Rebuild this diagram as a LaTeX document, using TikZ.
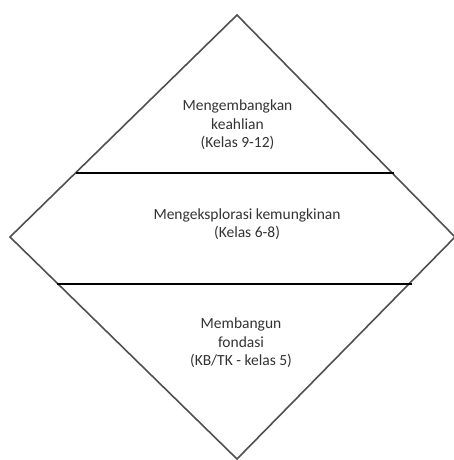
\documentclass[tikz,border=0pt]{standalone}
\usepackage{fontspec}
\setmainfont{Carlito}
\definecolor{edgegray}{HTML}{505050}
\definecolor{txtgray}{HTML}{333333}
\tikzset{
  diamondedge/.style={draw=edgegray, line width=1.6pt, line join=miter},
  tierline/.style={draw=black, line width=2.2pt},
  tiertext/.style={text=txtgray, align=center, inner sep=0pt, font=\fontsize{15.5}{18.5}\selectfont}
}
\begin{document}
\begin{tikzpicture}[x=1pt, y=-1pt]
\useasboundingbox (0,0) rectangle (454,460);
\fill[white] (0,0) rectangle (454,460);
% diamond vertices
\coordinate (T) at (237,15);
\coordinate (R) at (455,237);
\coordinate (B) at (237,459);
\coordinate (L) at (10,237);
\draw[diamondedge] (T) -- (R) -- (B) -- (L) -- cycle;
% tier separators
\coordinate (s1l) at (76,173);
\coordinate (s1r) at (394,173);
\coordinate (s2l) at (57,284);
\coordinate (s2r) at (412,284);
\draw[tierline] (s1l) -- (s1r);
\draw[tierline] (s2l) -- (s2r);
% texts
\node[tiertext] (top) at (237.5,125) {Mengembangkan\\keahlian\\(Kelas 9-12)};
\node[tiertext] (mid) at (247,224) {Mengeksplorasi kemungkinan\\(Kelas 6-8)};
\node[tiertext] (bot) at (241,343) {Membangun\\fondasi\\(KB/TK - kelas 5)};
\end{tikzpicture}
\end{document}
